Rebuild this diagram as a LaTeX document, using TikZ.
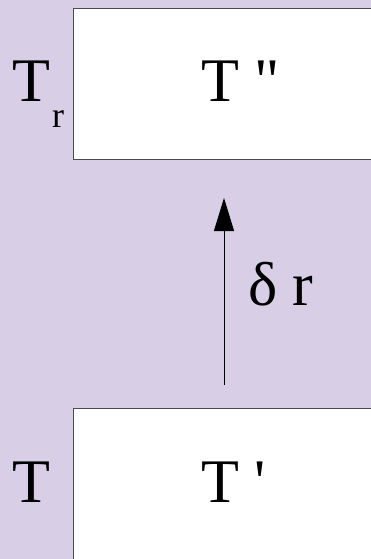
\documentclass[tikz,border=0pt]{standalone}
\usepackage{fontspec}
\newfontfamily\figfont{Liberation Serif}
\usepackage{tikz}
\usetikzlibrary{arrows.meta}
\definecolor{lilac}{RGB}{216,207,231}
\tikzset{
  bg/.style={fill=lilac,draw=none},
  bx/.style={rectangle,draw=black!70,fill=white,line width=.8pt,inner sep=0pt,anchor=north west},
  lb/.style={font=\figfont\fontsize{62}{70}\selectfont,anchor=base west,inner sep=0pt},
  mv/.style={-{Triangle[length=33pt,width=20pt]},line width=.9pt,draw=black},
}
\newcommand{\subr}{\kern2pt\raisebox{-26pt}{\fontsize{36}{40}\selectfont r}}

\begin{document}
\begin{tikzpicture}[x=1pt,y=-1pt]
\clip (0,0) rectangle (371,559);
\fill[bg] (0,0) rectangle (371,559);
% ============================= shifted state
\node[bx,minimum width=340pt,minimum height=151pt] (hi) at (73,8) {};
\node[lb] (hiT) at (201,102) {T "};
\node[lb] (hiL) at (12,102) {T\subr};
% ============================= original state
\node[bx,minimum width=340pt,minimum height=200pt] (lo) at (73,408) {};
\node[lb] (loT) at (201,502) {T '};
\node[lb] (loL) at (12,502) {T};
% ============================= step
\coordinate (st0) at (224,385);
\coordinate (st1) at (224,198);
\draw[mv] (st0) -- (st1);
\node[lb] (stL) at (248,305) {δ r};
\end{tikzpicture}
\end{document}
